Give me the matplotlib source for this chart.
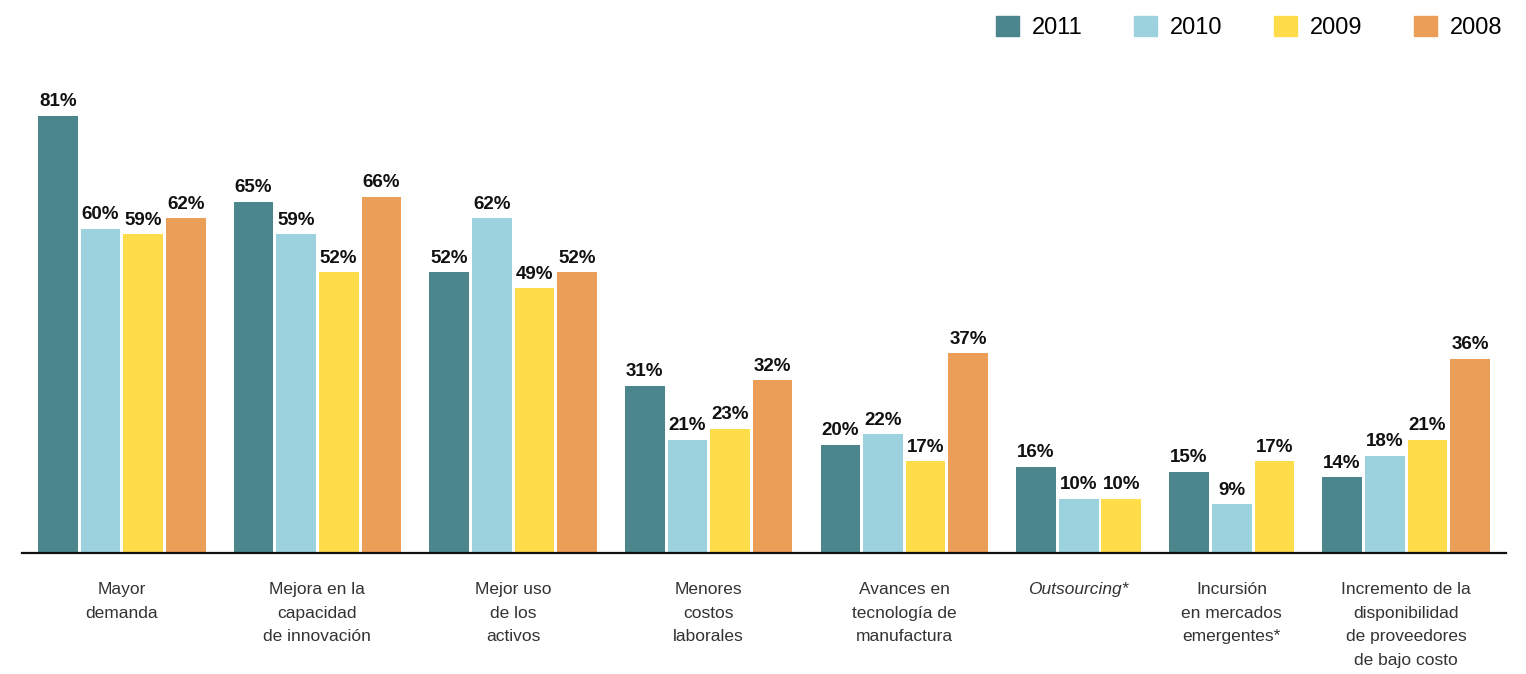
import matplotlib
matplotlib.use("Agg")
import matplotlib.pyplot as plt
import numpy as np

plt.rcParams["font.family"] = ["Liberation Sans", "DejaVu Sans"]

categories = [
    "Mayor\ndemanda",
    "Mejora en la\ncapacidad\nde innovación",
    "Mejor uso\nde los\nactivos",
    "Menores\ncostos\nlaborales",
    "Avances en\ntecnología de\nmanufactura",
    "Outsourcing*",
    "Incursión\nen mercados\nemergentes*",
    "Incremento de la\ndisponibilidad\nde proveedores\nde bajo costo",
]
years = ["2011", "2010", "2009", "2008"]
colors = ["#4b868c", "#9bd2de", "#ffdc4a", "#eb9e57"]

# None = no data for that year
v2011 = [81, 65, 52, 31, 20, 16, 15, 14]
v2010 = [60, 59, 62, 21, 22, 10, 9, 18]
v2009 = [59, 52, 49, 23, 17, 10, 17, 21]
v2008 = [62, 66, 52, 32, 37, None, None, 36]
series = [v2011, v2010, v2009, v2008]

bar_w = 0.93
group_gap = 0.66

fig = plt.figure(figsize=(15.26, 6.74), dpi=100)
ax = fig.add_axes([22 / 1526, 121 / 674, 1484 / 1526, 493 / 674])

group_centers = []
start = 0.0
for g in range(len(categories)):
    xs = []
    k = 0
    for s, vals in enumerate(series):
        v = vals[g]
        if v is None:
            continue
        x = start + k
        ax.bar(x, v, width=bar_w, color=colors[s], linewidth=0)
        ax.annotate(f"{v}%", (x, v), xytext=(0, 4), textcoords="offset points",
                    ha="center", va="bottom", fontsize=13.5, fontweight="bold",
                    color="#111111")
        xs.append(x)
        k += 1
    group_centers.append(np.mean(xs))
    start = start + (k - 1) + bar_w + group_gap

ax.set_xlim(-0.84, start - group_gap - bar_w / 2 + 0.38)
ax.set_ylim(0, 91.3)

ax.set_xticks(group_centers)
ax.set_xticklabels(categories, fontsize=12.5, color="#333333", linespacing=1.72)
ax.tick_params(axis="x", length=0, pad=21)
ax.get_xticklabels()[5].set_style("italic")
ax.set_yticks([])

for side in ["top", "right", "left"]:
    ax.spines[side].set_visible(False)
ax.spines["bottom"].set_linewidth(1.6)
ax.spines["bottom"].set_color("#111111")

handles = [plt.Rectangle((0, 0), 1, 1, color=c) for c in colors]
fig.legend(handles, years, loc="upper right", bbox_to_anchor=(1521 / 1526, 1.005),
           ncol=4, frameon=False, fontsize=17, handlelength=0.95,
           handleheight=0.95, handletextpad=0.55, columnspacing=2.2,
           borderaxespad=0.4)

fig.savefig("out.png", dpi=100)
